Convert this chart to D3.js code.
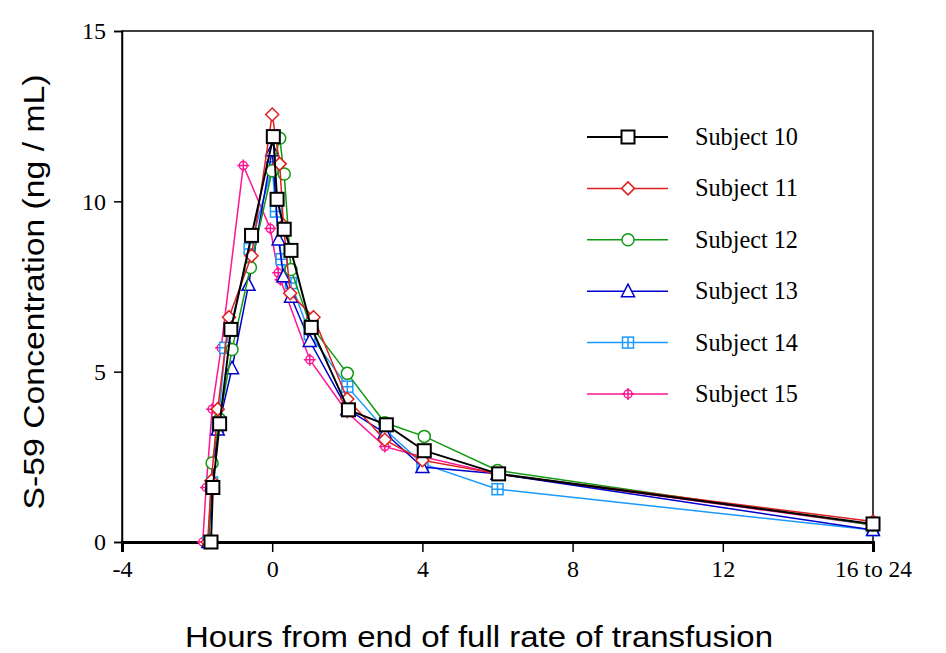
<!DOCTYPE html>
<html><head><meta charset="utf-8">
<script src="https://cdn.jsdelivr.net/npm/d3@7"></script>
<style>body{margin:0;background:#fff}svg{display:block}</style>
</head><body><svg id="c" width="946" height="653"></svg>
<script>
const subjects = ["Subject 10","Subject 11","Subject 12","Subject 13","Subject 14","Subject 15"];
const colors = ["#000000","#e02020","#119911","#0000cc","#1a9aff","#ff1493"];
const symbols = ["square","diamond","circle","triangle","squarecross","circlecross"];
const xTickValues = [-4,0,4,8,12,16];
const xTickLabels = ["-4","0","4","8","12","16 to 24"];
const yTickValues = [0,5,10,15];

const hours10 = [-1.63,-1.58,-1.4,-1.1,-0.55,0.03,0.13,0.32,0.5,1.04,2.03,3.04,4.05,6.03,16];
const conc10  = [0,1.6,3.47,6.24,9.0,11.9,10.06,9.18,8.56,6.3,3.88,3.44,2.68,2.0,0.53];
const hours11 = [-1.72,-1.62,-1.45,-1.15,-0.55,0.0,0.2,0.3,0.48,1.1,2.0,3.0,4.0,6.0,16];
const conc11  = [0,1.8,3.9,6.6,8.4,12.55,11.1,9.3,7.3,6.6,4.2,3.0,2.4,2.0,0.6];
const hours12 = [-1.7,-1.6,-1.4,-1.07,-0.58,0.0,0.2,0.32,0.5,1.0,2.0,3.0,4.05,6.0,16];
const conc12  = [0,2.32,3.6,5.65,8.06,10.9,11.85,10.8,8.0,6.4,4.95,3.5,3.1,2.1,0.5];
const hours13 = [-1.7,-1.6,-1.45,-1.07,-0.63,0.0,0.17,0.3,0.5,1.0,2.0,3.0,4.0,6.0,16];
const conc13  = [0,1.7,3.3,5.1,7.55,11.5,8.88,7.8,7.2,5.9,3.9,3.2,2.2,2.0,0.35];
const hours14 = [-1.7,-1.6,-1.45,-1.25,-0.6,0.0,0.1,0.25,0.5,1.0,2.0,3.0,4.0,6.0,16];
const conc14  = [0,1.75,3.4,5.7,8.6,11.0,9.7,8.3,7.6,6.1,4.56,3.3,2.3,1.55,0.35];
const hours15 = [-1.85,-1.76,-1.6,-1.36,-0.77,-0.05,0.16,0.22,1.0,2.0,3.0,4.0,6.0,16];
const conc15  = [0,1.6,3.9,5.7,11.05,9.2,7.9,7.7,5.35,3.8,2.8,2.5,2.0,0.5];

const hoursAll = [hours10,hours11,hours12,hours13,hours14,hours15];
const concAll = [conc10,conc11,conc12,conc13,conc14,conc15];

const svg = d3.select("#c");
const x = d3.scaleLinear().domain([-4,16]).range([122,873]);
const y = d3.scaleLinear().domain([0,15]).range([542,31]);

// frame
svg.append("rect").attr("x",122).attr("y",31).attr("width",751).attr("height",511)
  .attr("fill","none").attr("stroke","#000").attr("stroke-width",1.5);

// axes
const xAxis = d3.axisBottom(x).tickValues(xTickValues).tickFormat((d,i)=>xTickLabels[i]).tickSize(10).tickPadding(8);
const gx = svg.append("g").attr("transform","translate(0,542)").call(xAxis);
gx.select(".domain").attr("stroke-width",3);
gx.selectAll(".tick line").attr("stroke-width",1.5);
gx.selectAll("text").attr("font-family","Liberation Serif, serif").attr("font-size",24).attr("fill","#000");
gx.selectAll(".tick").filter(d=>d===16).select("text").attr("textLength",77).attr("lengthAdjust","spacingAndGlyphs");

const yAxis = d3.axisLeft(y).tickValues(yTickValues).tickSize(8).tickPadding(8);
const gy = svg.append("g").attr("transform","translate(122,0)").call(yAxis);
gy.select(".domain").attr("stroke-width",1.5);
gy.selectAll(".tick line").attr("stroke-width",1.5);
gy.selectAll("text").attr("font-family","Liberation Serif, serif").attr("font-size",24).attr("fill","#000");

// titles
svg.append("text").attr("x",479).attr("y",647).attr("text-anchor","middle")
  .attr("font-family","Liberation Sans, Arial, sans-serif").attr("font-size",30)
  .attr("textLength",588).attr("lengthAdjust","spacingAndGlyphs")
  .text("Hours from end of full rate of transfusion");
svg.append("text").attr("transform","translate(44,292) rotate(-90)").attr("text-anchor","middle")
  .attr("font-family","Liberation Sans, Arial, sans-serif").attr("font-size",30)
  .attr("textLength",435).attr("lengthAdjust","spacingAndGlyphs")
  .text("S-59 Concentration (ng / mL)");

function drawMarker(g, sym, color, cx, cy){
  const m = g.append("g").attr("transform",`translate(${cx},${cy})`);
  if(sym==="square"){
    m.append("rect").attr("x",-6.5).attr("y",-6.5).attr("width",13).attr("height",13).attr("fill","#fff").attr("stroke",color).attr("stroke-width",2);
  } else if(sym==="diamond"){
    m.append("path").attr("d","M0,-6.5L6.5,0L0,6.5L-6.5,0Z").attr("fill","#fff").attr("stroke",color).attr("stroke-width",1.5);
  } else if(sym==="circle"){
    m.append("circle").attr("r",6).attr("fill","#fff").attr("stroke",color).attr("stroke-width",1.5);
  } else if(sym==="triangle"){
    m.append("path").attr("d","M0,-7L6.5,5.5L-6.5,5.5Z").attr("fill","#fff").attr("stroke",color).attr("stroke-width",1.5);
  } else if(sym==="squarecross"){
    m.append("rect").attr("x",-5.5).attr("y",-5.5).attr("width",11).attr("height",11).attr("fill","#fff").attr("stroke",color).attr("stroke-width",1.5);
    m.append("path").attr("d","M0,-5.5V5.5M-5.5,0H5.5").attr("stroke",color).attr("stroke-width",1.5);
  } else if(sym==="circlecross"){
    m.append("circle").attr("r",4).attr("fill","#fff").attr("stroke",color).attr("stroke-width",1.5);
    m.append("path").attr("d","M0,-6V6M-6,0H6").attr("stroke",color).attr("stroke-width",1.5);
  }
}

const line = d3.line().x(d=>x(d[0])).y(d=>y(d[1]));
const plot = svg.append("g");
for(let s=subjects.length-1;s>=0;s--){
  const pts = hoursAll[s].map((h,i)=>[h,concAll[s][i]]);
  const g = plot.append("g");
  g.append("path").datum(pts).attr("d",line).attr("fill","none").attr("stroke",colors[s]).attr("stroke-width",s===0?2:1.5);
  pts.forEach(p=>drawMarker(g,symbols[s],colors[s],x(p[0]),y(p[1])));
}

// legend
const leg = svg.append("g");
subjects.forEach((name,i)=>{
  const ly = 137 + i*51.4;
  leg.append("line").attr("x1",587).attr("x2",668).attr("y1",ly).attr("y2",ly).attr("stroke",colors[i]).attr("stroke-width",i===0?2:1.5);
  drawMarker(leg,symbols[i],colors[i],628,ly);
  leg.append("text").attr("x",695).attr("y",ly+8).attr("font-family","Liberation Serif, serif").attr("font-size",25)
    .attr("textLength",103).attr("lengthAdjust","spacingAndGlyphs").text(name);
});
</script></body></html>
